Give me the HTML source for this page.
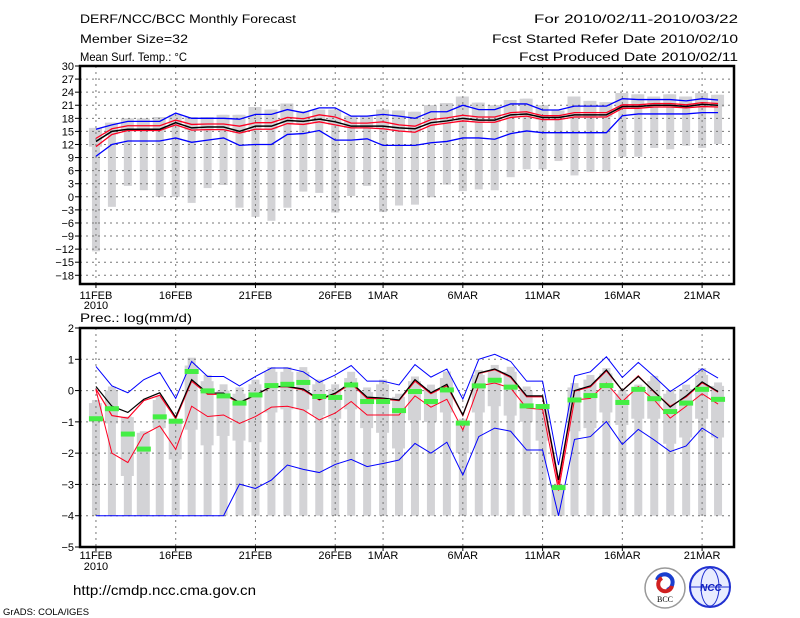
<!DOCTYPE html>
<html><head><meta charset="utf-8">
<style>
html,body{margin:0;padding:0;background:#fff;}
svg{display:block;font-family:"Liberation Sans",sans-serif;}
</style></head>
<body>
<svg id="chart" width="800" height="618" viewBox="0 0 800 618" xmlns="http://www.w3.org/2000/svg">
<g font-size="12" fill="#000">
<text x="80" y="23" textLength="216" lengthAdjust="spacingAndGlyphs">DERF/NCC/BCC Monthly Forecast</text>
<text x="80" y="43" textLength="108" lengthAdjust="spacingAndGlyphs">Member Size=32</text>
<text x="80" y="61" textLength="107" lengthAdjust="spacingAndGlyphs">Mean Surf. Temp.: °C</text>
<text x="534" y="23" textLength="204" lengthAdjust="spacingAndGlyphs">For 2010/02/11-2010/03/22</text>
<text x="492" y="43" textLength="246" lengthAdjust="spacingAndGlyphs">Fcst Started Refer Date 2010/02/10</text>
<text x="519" y="61" textLength="219" lengthAdjust="spacingAndGlyphs">Fcst Produced Date 2010/02/11</text>
</g>
<g id="top"></g>
<g id="bot"></g>
<text x="80" y="322" font-size="12" textLength="112" lengthAdjust="spacingAndGlyphs">Prec.: log(mm/d)</text>
<text x="73" y="595" font-size="14" textLength="183" lengthAdjust="spacingAndGlyphs">http://cmdp.ncc.cma.gov.cn</text>
<text x="3" y="615" font-size="9" textLength="86" lengthAdjust="spacingAndGlyphs">GrADS: COLA/IGES</text>
<g>
<circle cx="665" cy="588" r="20" fill="#fff" stroke="#999" stroke-width="1.5"/>
<path d="M657 580 a8 8 0 1 1 10 10" fill="none" stroke="#1a3fd0" stroke-width="4"/>
<path d="M672 586 a7 7 0 1 1 -10 -8" fill="none" stroke="#d02020" stroke-width="4"/>
<text x="665" y="602" font-size="8" text-anchor="middle" font-family="Liberation Serif,serif">BCC</text>
</g>
<g>
<circle cx="710" cy="587" r="20" fill="#e8ecff" stroke="#2030d0" stroke-width="2"/>
<ellipse cx="710" cy="587" rx="9" ry="19" fill="none" stroke="#2030d0"/>
<line x1="691" y1="587" x2="729" y2="587" stroke="#2030d0"/>
<text x="711" y="591" font-size="10" text-anchor="middle" fill="#1020c0" font-weight="bold" font-style="italic">NCC</text>
</g>
</svg>
<script>
// ---------- data ----------
const dayLabels = ["11FEB","16FEB","21FEB","26FEB","1MAR","6MAR","11MAR","16MAR","21MAR"];
const dayLabelIdx = [0,5,10,15,18,23,28,33,38];
const tTicks = [30,27,24,21,18,15,12,9,6,3,0,-3,-6,-9,-12,-15,-18];
const pTicks = [2,1,0,-1,-2,-3,-4,-5];

const tMean = [12.7,15,15.5,15.5,15.5,17,15.8,16,16,15,16.2,16.2,17.5,17.3,17.8,17.2,16.2,16.2,16.2,15.8,15.6,17,17.4,18,17.6,17.6,18.8,19,18.2,18.2,18.8,18.8,18.8,20.7,20.7,21,21,20.7,21.2,21];
const tRedHi = [13.4,15.6,16.3,16.3,16.3,17.6,16.6,16.7,16.7,16.2,17,17,18.2,17.9,18.8,18.3,16.9,16.9,17.2,16.5,16.2,17.7,18.1,18.7,18.3,18.3,19.3,19.5,18.6,18.6,19.3,19.3,19.3,21.1,21.1,21.4,21.4,21.1,21.6,21.4];
const tRedLo = [11.5,14.3,15.2,15.2,15.2,16.5,15.3,15.4,15.4,14.6,15.5,15.5,16.8,16.6,17.2,16.5,15.8,15.8,15.6,15.1,14.8,16.4,16.9,17.4,17.1,17.1,18.2,18.5,17.7,17.7,18.3,18.3,18.3,20.3,20.3,20.6,20.6,20.4,20.7,20.6];
const tBlueHi = [15.5,16.5,17.3,17.3,17.3,19.2,18,18,18,17.8,18.9,18.9,20,19.3,20.4,20.4,18.5,18.5,18.9,18.5,18,19.5,19.5,21,20,20,21.3,21.3,19.9,19.9,20.8,20.8,20.8,22.5,22.3,22.3,22.3,22,22.5,22.2];
const tBlueLo = [9.3,12,12.8,12.8,12.8,13.5,12.5,13,13.5,11.8,12,12,14.3,14.5,15.2,13,13,13.3,11.8,11.8,11.8,12.4,12.7,13.5,13.5,13.2,14.5,15.1,14.7,14.7,14.7,14.7,14.7,18.6,19,19,19,19,19.3,19.3];
const tMax = [15.8,17,18,18,18.3,18.8,18.3,18.3,18.8,18.8,20.6,20,21.4,19.6,20,20,18.6,18.6,20,19.8,19.5,21,21.5,23,21.6,21,22.2,22.5,21,19.8,23,22,21.7,23.8,23.5,23,23.5,23,23.8,23.4];
const tMin = [-12.5,-2.3,2.5,1.5,0,0,-1.4,2,2.7,-2.5,-4.6,-5.5,-2.5,1.2,0.9,-3.6,0.2,2.5,-3.5,-2,-1.8,-0.1,2.8,1.3,1.7,1.5,4.5,6.3,6.3,8.2,4.9,5.7,5.8,9.2,9.2,11.2,10.9,11.7,11.2,12.1];

const pMean = [0.13,-0.5,-0.7,-0.28,-0.07,-0.85,0.35,-0.08,-0.08,-0.38,-0.14,0.13,0.13,0.05,-0.28,-0.08,0.26,-0.21,-0.24,-0.3,0.35,-0.07,0.2,-0.78,0.56,0.69,0.45,-0.17,-0.17,-2.86,0,0.15,0.66,0,0.45,-0.03,-0.53,-0.17,0.28,-0.03];
const pRedHi = [0.05,-0.8,-0.88,-0.32,-0.15,-0.9,0.3,-0.12,-0.12,-0.4,-0.14,0.12,0.12,0.02,-0.3,-0.1,0.22,-0.25,-0.27,-0.32,0.3,-0.1,0.15,-0.8,0.55,0.67,0.42,-0.2,-0.2,-3.0,-0.02,0.12,0.63,0,0.47,-0.05,-0.5,-0.2,0.25,-0.05];
const pRedLo = [0.02,-2,-2.3,-1.4,-1.13,-1.88,-0.5,-0.83,-0.78,-1.05,-0.83,-0.53,-0.5,-0.62,-0.94,-0.72,-0.35,-0.78,-0.78,-0.78,-0.17,-0.53,-0.28,-1.26,0.15,0.24,0.08,-0.56,-0.6,-3.2,-0.3,-0.25,0.24,-0.35,0.13,-0.3,-0.88,-0.5,-0.1,-0.43];
const pBlueHi = [0.77,0.15,-0.07,0.35,0.58,-0.25,0.93,0.45,0.45,0.15,0.45,0.72,0.72,0.6,0.26,0.5,0.8,0.3,0.3,0.18,0.83,0.43,0.69,-0.27,1.0,1.16,0.93,0.3,0.3,-2.38,0.47,0.6,1.08,0.42,0.9,0.45,-0.03,0.3,0.7,0.4];
const pBlueLo = [-4,-4,-4,-4,-4,-4,-4,-4,-4,-2.99,-3.13,-2.86,-2.38,-2.52,-2.62,-2.36,-2.2,-2.43,-2.33,-2.22,-1.69,-2,-1.65,-2.7,-1.47,-1.2,-1.3,-1.9,-1.9,-4,-1.56,-1.47,-0.99,-1.72,-1.24,-1.58,-1.95,-1.77,-1.2,-1.52];
const pObs = [-0.9,-0.58,-1.39,-1.87,-0.84,-0.98,0.61,-0.01,-0.17,-0.4,-0.14,0.16,0.2,0.26,-0.19,-0.22,0.18,-0.35,-0.35,-0.64,-0.03,-0.35,0.02,-1.04,0.15,0.33,0.11,-0.49,-0.51,-3.1,-0.3,-0.16,0.16,-0.38,0.04,-0.26,-0.67,-0.4,0.04,-0.28];
const pMax = [-0.3,0.13,-0.83,-1.3,-0.19,-0.9,1.05,0.5,0.2,0.1,0.35,0.75,0.75,0.75,0.35,0.2,0.6,0.1,0.35,-0.1,0.45,0.19,0.61,-0.9,0.66,0.82,0.76,0.13,-0.46,-3.0,0.24,0.5,0.72,0.02,0.19,0.47,0.02,0.19,0.72,0.26];
const pQ3 = [-0.4,0.0,-0.85,-1.35,-0.3,-0.95,0.8,0.3,0.0,-0.1,0.2,0.6,0.6,0.6,0.2,0.05,0.4,-0.05,0.2,-0.2,0.3,0.05,0.4,-1.0,0.5,0.65,0.6,0.0,-0.5,-3.0,0.1,0.35,0.55,-0.1,0.05,0.3,-0.1,0.05,0.5,0.15];
const pQ1 = [-1.0,-1.05,-2.73,-4,-1.2,-2.2,-1.25,-1.75,-1.45,-1.6,-1.65,-0.7,-0.6,-0.6,-0.8,-0.9,-0.6,-1.2,-1.35,-1.85,-0.95,-1.0,-0.7,-2.0,-0.7,-0.5,-0.8,-1.0,-1.6,-4,-1.3,-1.2,-0.7,-1.1,-0.9,-0.9,-1.7,-1.5,-0.9,-1.5];
const pMin = new Array(40).fill(-4);

// ---------- drawing ----------
const NS = "http://www.w3.org/2000/svg";
function mk(parent, tag, attrs){ const e=document.createElementNS(NS,tag); for(const k in attrs) e.setAttribute(k,attrs[k]); parent.appendChild(e); return e; }
const X0=80, X1=734;
function xs(i){ return X0 + (i+1)*(X1-X0)/41; }

function panel(g, top, bottom, vmax, vmin, ticks){
  const ys = v => top + (vmax - v)*(bottom-top)/(vmax-vmin);
  ticks.forEach(t=>{
    if(t===vmax||t===vmin) return;
    const l=mk(g,'line',{x1:X0,x2:X1,y1:ys(t),y2:ys(t),stroke:'#777','stroke-width':1,'stroke-dasharray':'2,4'});
    
    
  });
  dayLabelIdx.forEach(i=>{
    const l=mk(g,'line',{x1:xs(i),x2:xs(i),y1:top,y2:bottom,stroke:'#777','stroke-width':1,'stroke-dasharray':'2,4'});
    
    
  });
  return ys;
}
function tickLabels(g, top, bottom, ys, ticks, lblY, yrY){
  ticks.forEach(t=>{
    const tx=mk(g,'text',{x:74,y:ys(t)+4,'font-size':11,'text-anchor':'end'});
    tx.textContent = t<0 ? '\u2212'+(-t) : String(t);
    
    
    mk(g,'line',{x1:75,x2:X0,y1:ys(t),y2:ys(t),stroke:'#000'});
  });
  dayLabelIdx.forEach((i,k)=>{
    mk(g,'line',{x1:xs(i),x2:xs(i),y1:bottom,y2:bottom+4,stroke:'#000'});
    const tx=mk(g,'text',{x:xs(i),y:lblY,'font-size':11,'text-anchor':'middle'});
    tx.textContent=dayLabels[k];
    
    
  });
  const yr=mk(g,'text',{x:xs(0),y:yrY,'font-size':11,'text-anchor':'middle'});
  yr.textContent='2010';
  
  
  const fr=mk(g,'rect',{x:X0,y:top,width:X1-X0,height:bottom-top,fill:'none',stroke:'#000','stroke-width':2.5});
  
  
}
function bars(g, ys, lo, hi, q1, q3){
  for(let i=0;i<lo.length;i++){
    const b=mk(g,'rect',{x:xs(i)-4,y:ys(hi[i]),width:8,height:ys(lo[i])-ys(hi[i]),fill:'#d3d3d6'});
    
    
    const bx=mk(g,'rect',{x:xs(i)-7,y:ys(q3[i]),width:13,height:Math.max(0,ys(q1[i])-ys(q3[i])),fill:'#d3d3d6'});
    
    
  }
}
function line(g, ys, arr, color, w, name){
  const p=mk(g,'polyline',{points:arr.map((v,i)=>xs(i)+','+ys(v)).join(' '),fill:'none',stroke:color,'stroke-width':w});
  
  
}

// top panel
const gT=document.getElementById('top');
const T0=66, T1=284;
const ysT = v => T0 + (30 - v)*(T1-T0)/50;
bars(gT, ysT, tMin, tMax, tMax.map((v,i)=>Math.min(v, tRedLo[i])), tMax);
panel(gT,T0,T1,30,-20,tTicks);
line(gT,ysT,tBlueHi,'#0000ff',1.3,'upper-bound-line');
line(gT,ysT,tBlueLo,'#0000ff',1.3,'lower-bound-line');
line(gT,ysT,tRedHi,'#ff0022',1.3,'upper-ci-line');
line(gT,ysT,tRedLo,'#ff0022',1.3,'lower-ci-line');
line(gT,ysT,tMean,'#000',1.5,'ensemble-mean-line');
tickLabels(gT,T0,T1,ysT,tTicks,299,309);

// bottom panel
const gB=document.getElementById('bot');
const B0=328, B1=547;
const ysB = v => B0 + (2 - v)*(B1-B0)/7;
bars(gB, ysB, pMin, pMax, pQ1, pQ3);
panel(gB,B0,B1,2,-5,pTicks);
line(gB,ysB,pBlueHi,'#0000ff',1,'upper-bound-line');
line(gB,ysB,pBlueLo,'#0000ff',1,'lower-bound-line');
line(gB,ysB,pRedLo,'#ff0022',1,'lower-ci-line');
line(gB,ysB,pRedHi,'#ff0022',1.2,'upper-ci-line');
line(gB,ysB,pMean,'#000',1.2,'ensemble-mean-line');
pObs.forEach((v,i)=>{
  const r=mk(gB,'rect',{x:xs(i)-7,y:ysB(v)-2.5,width:14,height:5,fill:'#44ee44'});
  
  
});
tickLabels(gB,B0,B1,ysB,pTicks,559,570);
</script>
</body></html>
